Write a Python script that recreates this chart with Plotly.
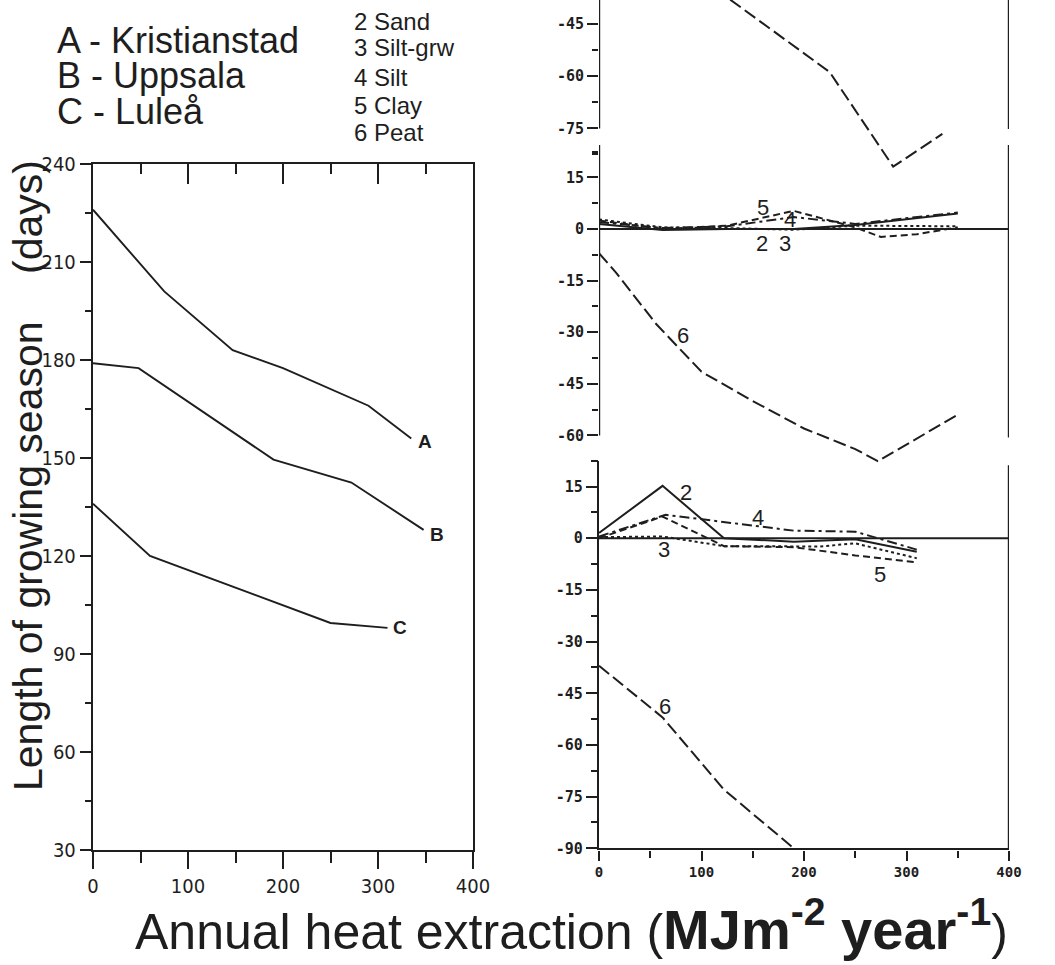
import plotly.graph_objects as go

# ---------------- data ----------------
# Left panel: length of growing season (days) vs annual heat extraction
A_x = [0, 75, 147, 200, 290, 335]
A_y = [226, 201, 183, 177.5, 166, 156]
B_x = [0, 48, 190, 272, 348]
B_y = [179, 177.5, 149.5, 142.5, 128]
C_x = [0, 60, 250, 310]
C_y = [136, 120, 99.5, 98]

# Right panels: change in growing season per soil type (days)
# Top panel (A - Kristianstad), only peat visible
A6_x = [128, 225, 287, 335]
A6_y = [-38, -58.8, -86, -76.6]

# Middle panel (B - Uppsala)
B2_x = [0, 62, 125, 190, 250, 350]
B2_y = [1.5, -0.3, 0, 0, 1.2, 4.5]
B3_x = [0, 62, 125, 190, 250, 350]
B3_y = [2.8, 0.5, 0.3, -0.2, 1.0, 0.8]
B4_x = [0, 62, 125, 190, 250, 350]
B4_y = [2.0, 0.3, 0.8, 3.5, 1.5, 4.8]
B5_x = [0, 62, 125, 190, 250, 275, 310, 350]
B5_y = [2.5, 0, 1, 5.3, 0.5, -2.3, -1.5, 0.5]
B6_x = [0, 17, 56, 100, 150, 200, 250, 272, 350]
B6_y = [-7, -12.8, -27.7, -41.5, -50, -58, -64, -67.5, -54]

# Bottom panel (C - Lulea)
C2_x = [0, 62, 122, 190, 250, 310]
C2_y = [1.5, 15.2, 0, -1, -0.3, -3.9]
C3_x = [0, 62, 122, 215, 250, 310]
C3_y = [0.3, 0.5, -2.3, -2.4, -1.5, -5.8]
C4_x = [0, 65, 190, 250, 310]
C4_y = [0.5, 6.8, 2.2, 1.9, -3.3]
C5_x = [0, 62, 122, 190, 250, 310]
C5_y = [0, 6.3, -2.3, -2.6, -5.0, -7.0]
C6_x = [0, 62, 122, 190]
C6_y = [-37, -52, -73, -90]

left_yticks = [30, 60, 90, 120, 150, 180, 210, 240]
left_yminor = [45, 75, 105, 135, 165, 195, 225]
x_ticks = [0, 100, 200, 300, 400]
x_minor = [50, 150, 250, 350]
right_ticks = [15, 0, -15, -30, -45, -60, -75, -90]
right_minor = [22.5, 7.5, -7.5, -22.5, -37.5, -52.5, -67.5, -82.5]

# ---------------- layout helpers ----------------
W, H = 1055, 965
def fx(px):
    return px / W
def fy(py):
    return (H - py) / H

INK = "#1e1e1e"
TXT = "Liberation Sans, Arial, sans-serif"
NARROW = "Liberation Sans Narrow, DejaVu Sans Condensed, sans-serif"
MONO = "DejaVu Sans Mono, Liberation Mono, monospace"

DASH = {"2": "solid", "3": "3px,3px", "4": "10px,4px,3px,4px", "5": "7px,4px", "6": "13px,5px"}

fig = go.Figure()

def add(x, y, xa, ya, dash, w=2.0):
    fig.add_trace(go.Scatter(x=x, y=y, mode="lines", xaxis=xa, yaxis=ya,
                             line=dict(color=INK, width=w, dash=dash),
                             hoverinfo="skip", showlegend=False))

# left panel
for xs, ys in [(A_x, A_y), (B_x, B_y), (C_x, C_y)]:
    add(xs, ys, "x", "y", "solid", 1.9)
# dummy trace so the top mirror axis is drawn
fig.add_trace(go.Scatter(x=[None], y=[None], mode="lines", xaxis="x5", yaxis="y",
                         showlegend=False, hoverinfo="skip"))

# top right panel
add(A6_x, A6_y, "x4", "y4", DASH["6"])
# middle right panel
add(B2_x, B2_y, "x3", "y3", DASH["2"])
add(B3_x, B3_y, "x3", "y3", DASH["3"])
add(B4_x, B4_y, "x3", "y3", DASH["4"])
add(B5_x, B5_y, "x3", "y3", DASH["5"])
add(B6_x, B6_y, "x3", "y3", DASH["6"])
# bottom right panel
add(C2_x, C2_y, "x2", "y2", DASH["2"])
add(C3_x, C3_y, "x2", "y2", DASH["3"])
add(C4_x, C4_y, "x2", "y2", DASH["4"])
add(C5_x, C5_y, "x2", "y2", DASH["5"])
add(C6_x, C6_y, "x2", "y2", DASH["6"])

LW = 2.4
left_dom_x = [fx(93), fx(473)]
right_dom_x = [fx(599), fx(1009)]

common_y_right = dict(
    tickmode="array", tickvals=right_ticks,
    ticktext=[str(v) for v in right_ticks],
    ticks="outside", ticklen=11, tickwidth=LW, tickcolor=INK,
    minor=dict(tickvals=right_minor, ticks="outside", ticklen=6, tickwidth=LW, tickcolor=INK, showgrid=False),
    showgrid=False, zeroline=False,
    tickfont=dict(family=MONO, size=15, color=INK, weight="bold"),
)

fig.update_layout(
    width=W, height=H,
    margin=dict(l=0, r=0, t=0, b=0, pad=0, autoexpand=False),
    paper_bgcolor="white", plot_bgcolor="rgba(0,0,0,0)",
    font=dict(family=TXT, color=INK),
    showlegend=False,
    xaxis=dict(domain=left_dom_x, range=[0, 400], anchor="y",
               tickmode="array", tickvals=x_ticks, ticks="outside", ticklen=17,
               tickwidth=LW, tickcolor=INK,
               minor=dict(tickvals=x_minor, ticks="outside", ticklen=11, tickwidth=LW, tickcolor=INK, showgrid=False),
               showline=True, linewidth=LW, linecolor=INK, showgrid=False, zeroline=False,
               tickfont=dict(family=NARROW, size=20, color=INK)),
    xaxis5=dict(domain=left_dom_x, range=[0, 400], anchor="y", overlaying="x", side="top",
                tickmode="array", tickvals=[100, 200, 300], ticks="inside", ticklen=20,
                tickwidth=LW, tickcolor=INK, showticklabels=False,
                minor=dict(tickvals=x_minor, ticks="inside", ticklen=10, tickwidth=LW, tickcolor=INK, showgrid=False),
                showline=True, linewidth=LW, linecolor=INK, showgrid=False, zeroline=False),
    yaxis=dict(domain=[fy(850), fy(164)], range=[30, 240], anchor="x",
               tickmode="array", tickvals=left_yticks, ticks="outside", ticklen=11,
               tickwidth=LW, tickcolor=INK,
               minor=dict(tickvals=left_yminor, ticks="outside", ticklen=6, tickwidth=LW, tickcolor=INK, showgrid=False),
               showline=True, mirror=True, linewidth=LW, linecolor=INK,
               showgrid=False, zeroline=False,
               tickfont=dict(family=NARROW, size=20, color=INK)),
    # bottom right
    xaxis2=dict(domain=right_dom_x, range=[0, 400], anchor="y2",
                tickmode="array", tickvals=x_ticks, ticks="outside", ticklen=10,
                tickwidth=LW, tickcolor=INK,
                minor=dict(tickvals=x_minor, ticks="outside", ticklen=7, tickwidth=LW, tickcolor=INK, showgrid=False),
                showline=True, linewidth=LW, linecolor=INK, showgrid=False, zeroline=False,
                tickfont=dict(family=MONO, size=14, color=INK, weight="bold")),
    yaxis2=dict(domain=[fy(848.3), fy(460.7)], range=[-90, 22.5], anchor="x2",
                showline=True, linewidth=LW, linecolor=INK, **common_y_right),
    # middle right
    xaxis3=dict(domain=right_dom_x, range=[0, 400], anchor="y3", visible=False),
    yaxis3=dict(domain=[fy(470), fy(145)], range=[-70.07, 24.45], anchor="x3",
                showline=False, **common_y_right),
    # top right
    xaxis4=dict(domain=right_dom_x, range=[0, 400], anchor="y4", visible=False),
    yaxis4=dict(domain=[fy(175), 1.0], range=[-88.4, -38.1], anchor="x4",
                showline=False, **common_y_right),
)

# axis lines / zero lines drawn in data coordinates
def vline(xref, yref, x, y0, y1):
    fig.add_shape(type="line", xref=xref, yref=yref, x0=x, x1=x, y0=y0, y1=y1,
                  line=dict(color=INK, width=LW))
def hline(xref, yref, y, x0=0, x1=400, w=1.9):
    fig.add_shape(type="line", xref=xref, yref=yref, x0=x0, x1=x1, y0=y, y1=y,
                  line=dict(color=INK, width=w))

vline("x4", "y4", 0, -75, -38.1)
vline("x4", "y4", 400, -75.2, -38.1)
vline("x3", "y3", 0, -60, 24.45)
vline("x3", "y3", 400, -60.6, 24.45)
hline("x3", "y3", 0)
vline("x2", "y2", 400, -90, 21.2)
hline("x2", "y2", 0)

# curve labels
def lab(text, xref, yref, x, y, size=22, bold=False):
    fig.add_annotation(text=("<b>%s</b>" % text) if bold else text, xref=xref, yref=yref,
                       x=x, y=y, showarrow=False, font=dict(family=TXT, size=size, color=INK),
                       xanchor="center", yanchor="middle")

lab("A", "x", "y", 349.5, 155, 19, True)
lab("B", "x", "y", 362, 126.5, 19, True)
lab("C", "x", "y", 323, 98, 19, True)

lab("5", "x3", "y3", 160, 6.4)
lab("4", "x3", "y3", 186, 2.7)
lab("2", "x3", "y3", 159, -4.2)
lab("3", "x3", "y3", 181.5, -4.2)
lab("6", "x3", "y3", 82, -31)

lab("2", "x2", "y2", 85, 13.3)
lab("4", "x2", "y2", 155, 6.0)
lab("3", "x2", "y2", 63.4, -3.2)
lab("5", "x2", "y2", 274, -10.5)
lab("6", "x2", "y2", 64.4, -48.7)

# legends (station list and soil list)
for txt, yc in [("A - Kristianstad", 40), ("B - Uppsala", 76), ("C - Luleå", 112)]:
    fig.add_annotation(text=txt, xref="paper", yref="paper", x=fx(55), y=fy(yc),
                       xanchor="left", yanchor="middle", showarrow=False,
                       font=dict(family=TXT, size=36, color=INK))
for txt, yc in [("2 Sand", 22), ("3 Silt-grw", 48), ("4 Silt", 77), ("5 Clay", 105), ("6 Peat", 133)]:
    fig.add_annotation(text=txt, xref="paper", yref="paper", x=fx(352), y=fy(yc),
                       xanchor="left", yanchor="middle", showarrow=False,
                       font=dict(family=TXT, size=24, color=INK))

# axis titles
fig.add_annotation(text="Length of growing season", xref="paper", yref="paper",
                   x=fx(28), y=fy(556), textangle=-90, showarrow=False,
                   xanchor="center", yanchor="middle",
                   font=dict(family=TXT, size=41, color=INK))
fig.add_annotation(text="(days)", xref="paper", yref="paper",
                   x=fx(28), y=fy(217), textangle=-90, showarrow=False,
                   xanchor="center", yanchor="middle",
                   font=dict(family=TXT, size=41, color=INK))
fig.add_annotation(text="Annual heat extraction (<b><span style='font-size:56px'>MJm<sup>-2</sup> year<sup>-1</sup></span></b>)",
                   xref="paper", yref="paper", x=fx(133), y=fy(925),
                   xanchor="left", yanchor="middle", showarrow=False,
                   font=dict(family=TXT, size=50, color=INK))

fig.write_html("out.html")
